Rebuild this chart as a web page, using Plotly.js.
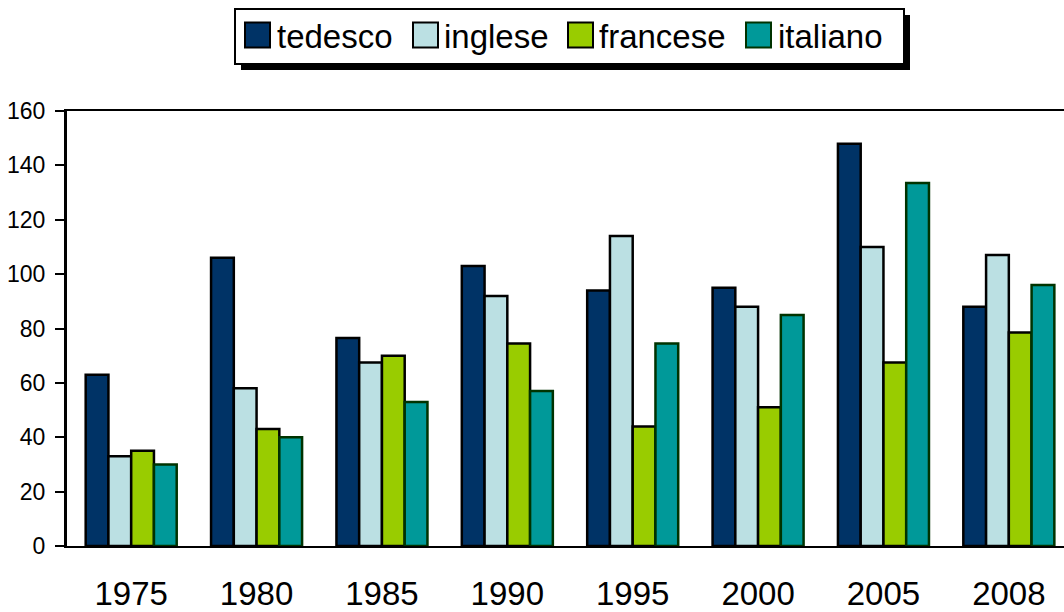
<!DOCTYPE html>
<html>
<head>
<meta charset="utf-8">
<script src="https://cdn.plot.ly/plotly-3.0.1.min.js"></script>
<style>html,body{margin:0;padding:0;background:#fff;}#chart{width:1064px;height:612px;}</style>
</head>
<body>
<div id="chart"></div>
<script>
// ---- data ----
const years = ['1975','1980','1985','1990','1995','2000','2005','2008'];
const seriesNames = ['tedesco','inglese','francese','italiano'];
const tedesco  = [63, 106, 76.5, 103, 94, 95, 148, 88];
const inglese  = [33, 58, 67.5, 92, 114, 88, 110, 107];
const francese = [35, 43, 70, 74.5, 44, 51, 67.5, 78.5];
const italiano = [30, 40, 53, 57, 74.5, 85, 133.5, 96];
const yTicks = [0, 20, 40, 60, 80, 100, 120, 140, 160];

// ---- styles ----
const seriesValues = [tedesco, inglese, francese, italiano];
const fillColors = ['#003366', '#BBE0E3', '#99CC00', '#009999'];
const lineColors = ['#000000', '#000000', '#000000', '#003300'];
const FONT = 'Liberation Sans, Arial, sans-serif';

const M = {l: 67, r: 0, t: 111, b: 66};
const W = 1064, H = 612;
const plotW = W - M.l - M.r, plotH = H - M.t - M.b;
const px = x => (x - M.l) / plotW;
const py = y => (H - M.b - y) / plotH;

const traces = seriesNames.map((name, i) => ({
  type: 'bar',
  name: name,
  x: years,
  y: seriesValues[i],
  marker: {color: fillColors[i], line: {color: lineColors[i], width: 2.5}},
  hoverinfo: 'x+y+name'
}));

// custom legend (box with shadow, swatches, text)
const legBox = {x0: 235, y0: 9, x1: 904, y1: 64};
const shadowOff = 6;
const swatchLeft = [245, 413, 568, 746];
const textLeft = [275, 442, 597, 776];
const swatchTop = 22.5, swatchSize = 25;

const shapes = [
  {type: 'rect', xref: 'paper', yref: 'paper', layer: 'above',
   x0: px(legBox.x0 + shadowOff), x1: px(legBox.x1 + shadowOff),
   y0: py(legBox.y0 + shadowOff), y1: py(legBox.y1 + shadowOff),
   fillcolor: '#000', line: {width: 0}},
  {type: 'rect', xref: 'paper', yref: 'paper', layer: 'above',
   x0: px(legBox.x0), x1: px(legBox.x1), y0: py(legBox.y0), y1: py(legBox.y1),
   fillcolor: '#fff', line: {color: '#000', width: 2}}
];
const annotations = [];
seriesNames.forEach((name, i) => {
  shapes.push({type: 'rect', xref: 'paper', yref: 'paper', layer: 'above',
    x0: px(swatchLeft[i]), x1: px(swatchLeft[i] + swatchSize),
    y0: py(swatchTop), y1: py(swatchTop + swatchSize),
    fillcolor: fillColors[i], line: {color: lineColors[i], width: 2}});
  annotations.push({xref: 'paper', yref: 'paper', showarrow: false,
    x: px(textLeft[i]), y: py(swatchTop + swatchSize / 2 + 1),
    xanchor: 'left', yanchor: 'middle', text: name,
    font: {family: FONT, size: 33, color: '#000'}});
});

const layout = {
  width: W, height: H,
  margin: M,
  paper_bgcolor: '#fff', plot_bgcolor: '#fff',
  barmode: 'group', bargap: 0.274, bargroupgap: 0,
  showlegend: false,
  font: {family: FONT, color: '#000'},
  xaxis: {
    type: 'category', range: [-0.512, 7.44],
    showline: true, linecolor: '#000', linewidth: 2, mirror: true,
    ticks: '', showgrid: false, zeroline: false,
    tickfont: {family: FONT, size: 33, color: '#000'},
    ticklabelstandoff: 17, fixedrange: true
  },
  yaxis: {
    range: [0, 160], tickmode: 'array', tickvals: yTicks, ticktext: yTicks.map(String),
    showline: true, linecolor: '#000', linewidth: 3,
    ticks: 'outside', ticklen: 9, tickwidth: 2, tickcolor: '#000',
    showgrid: false, zeroline: false,
    tickfont: {family: FONT, size: 23, color: '#000'},
    ticklabelstandoff: 5, fixedrange: true
  },
  shapes: shapes,
  annotations: annotations
};

Plotly.newPlot('chart', traces, layout, {displayModeBar: false, staticPlot: true});
</script>
</body>
</html>
